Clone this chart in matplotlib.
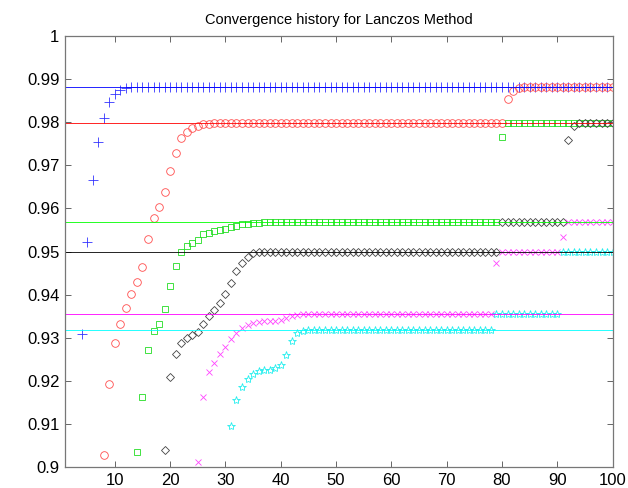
import matplotlib
matplotlib.use("Agg")
import matplotlib.pyplot as plt
from matplotlib.ticker import FixedLocator, FuncFormatter

# ---- data ----
eigenvalues = [0.9883, 0.9798, 0.9568, 0.9500, 0.9354, 0.9317]
line_colors = ["#0000ff", "#ff0000", "#00ff00", "#000000", "#ff00ff", "#00ffff"]
marker_colors = ["#3333ff", "#ff4d4d", "#22dd22", "#444444", "#ff44ff", "#22eeee"]

s1_start = 4
s1 = [0.9309, 0.9523, 0.9665, 0.9754, 0.9809, 0.9847, 0.9866, 0.9875, 0.9879,
      0.9881, 0.9882] + [0.9883] * 86

s2_start = 8
s2 = [0.9028, 0.9192, 0.9287, 0.9332, 0.9368, 0.9401, 0.9429, 0.9465, 0.9530,
      0.9577, 0.9603, 0.9639, 0.9687, 0.9728, 0.9764, 0.9778, 0.9786, 0.9792,
      0.9795, 0.9797] + [0.9798] * 53 + [0.9854, 0.9873, 0.9880, 0.9882] + [0.9883] * 16

s3_start = 14
s3 = [0.9036, 0.9163, 0.9271, 0.9315, 0.9333, 0.9367, 0.9421, 0.9466, 0.9500,
      0.9513, 0.9520, 0.9527, 0.9540, 0.9544, 0.9547, 0.9551, 0.9553, 0.9556,
      0.9560, 0.9563, 0.9565, 0.9566, 0.9567] + [0.9568] * 43 + [0.9765] + [0.9798] * 20

s4_start = 19
s4 = [0.9040, 0.9209, 0.9262, 0.9288, 0.9300, 0.9307, 0.9313, 0.9331, 0.9350,
      0.9364, 0.9380, 0.9401, 0.9428, 0.9456, 0.9473, 0.9488, 0.9496,
      0.9499] + [0.9500] * 43 + [0.9568] * 12 + [0.9759, 0.9791] + [0.9798] * 7

s5_start = 25
s5 = [0.9012, 0.9162, 0.9220, 0.9241, 0.9262, 0.9279, 0.9298, 0.9312, 0.9322,
      0.9329, 0.9334, 0.9337, 0.9338, 0.9339, 0.9340, 0.9341, 0.9345, 0.9351,
      0.9353] + [0.9354] * 35 + [0.9474] + [0.9500] * 11 + [0.9534] + [0.9568] * 9

s6_start = 31
s6 = [0.9095, 0.9156, 0.9185, 0.9204, 0.9217, 0.9223, 0.9224, 0.9226, 0.9230,
      0.9237, 0.9260, 0.9292, 0.9310, 0.9316] + [0.9317] * 34 + [0.9354] * 12 + [0.9500] * 10

series_starts = [s1_start, s2_start, s3_start, s4_start, s5_start, s6_start]
series_values = [s1, s2, s3, s4, s5, s6]
markers = ["+", "o", "s", "D", "x", "*"]
marker_sizes = [6.5, 5.5, 4.5, 4.2, 5, 6]

x_ticks = [10, 20, 30, 40, 50, 60, 70, 80, 90, 100]
y_ticks = [0.9, 0.91, 0.92, 0.93, 0.94, 0.95, 0.96, 0.97, 0.98, 0.99, 1.0]
x_range = [1, 100]

plt.rcParams["font.family"] = ["Liberation Sans", "DejaVu Sans"]

fig = plt.figure(figsize=(6.28, 4.88), dpi=100)
ax = fig.add_axes([0.1035, 0.043, 0.872, 0.883])

for start, vals, mk, ms, col in zip(series_starts, series_values, markers,
                                     marker_sizes, marker_colors):
    xs = list(range(start, start + len(vals)))
    ax.plot(xs, vals, linestyle="none", marker=mk, markersize=ms,
            markerfacecolor="none", markeredgecolor=col, markeredgewidth=0.6)

for lam, col in zip(eigenvalues, line_colors):
    ax.plot(x_range, [lam, lam], color=col, linewidth=0.6)

ax.set_xlim(x_range)
ax.set_ylim(0.9, 1.0)
ax.xaxis.set_major_locator(FixedLocator(x_ticks))
ax.yaxis.set_major_locator(FixedLocator(y_ticks))
ax.yaxis.set_major_formatter(FuncFormatter(lambda v, p: "%g" % round(v, 2)))
ax.tick_params(direction="in", length=4, width=0.7, color="#666666",
               labelsize=12, top=True, right=True, pad=4)
for sp in ax.spines.values():
    sp.set_color("#777777")
    sp.set_linewidth(0.9)

ax.set_title("Convergence history for Lanczos Method", fontsize=10.5, pad=9)

fig.savefig("out.png", dpi=100)
